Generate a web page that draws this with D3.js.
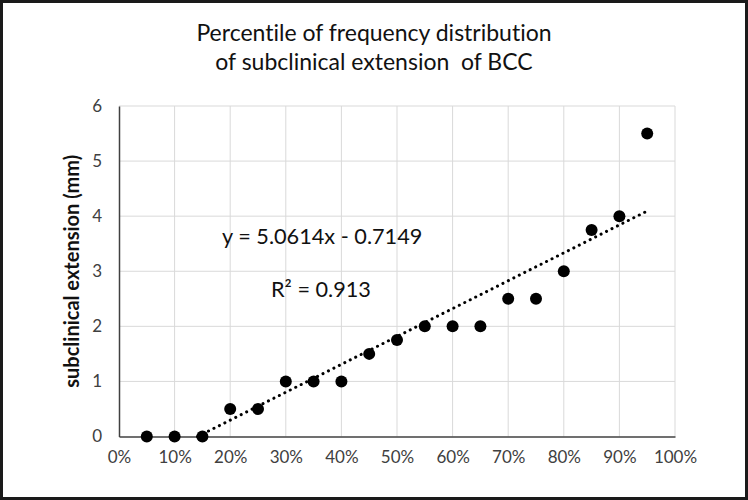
<!DOCTYPE html>
<html>
<head>
<meta charset="utf-8">
<script src="https://cdn.jsdelivr.net/npm/d3@7"></script>
<style>
  html, body { margin: 0; padding: 0; background: #fff; }
  svg { display: block; }
  text { font-variant-ligatures: none; font-feature-settings: "liga" 0, "clig" 0; }
</style>
</head>
<body>
<svg id="chart" width="748" height="500"></svg>
<script>
const titleLines = ["Percentile of frequency distribution", "of subclinical extension  of BCC"];
const yLabel = "subclinical extension (mm)";
const percentiles = [0.05, 0.10, 0.15, 0.20, 0.25, 0.30, 0.35, 0.40, 0.45, 0.50, 0.55, 0.60, 0.65, 0.70, 0.75, 0.80, 0.85, 0.90, 0.95];
const extension = [0, 0, 0, 0.5, 0.5, 1, 1, 1, 1.5, 1.75, 2, 2, 2, 2.5, 2.5, 3, 3.75, 4, 5.5];
const xTicks = [0, 0.1, 0.2, 0.3, 0.4, 0.5, 0.6, 0.7, 0.8, 0.9, 1.0];
const yTicks = [0, 1, 2, 3, 4, 5, 6];
const slope = 5.0614, intercept = -0.7149;
const eqText = "y = 5.0614x - 0.7149";
const r2Text = "R² = 0.913";

const svg = d3.select("#chart");
const W = 748, H = 500;
const font = "Lato, 'Open Sans', sans-serif";

svg.append("rect").attr("x", 1.5).attr("y", 1.5).attr("width", W - 3).attr("height", H - 3)
  .attr("fill", "#fff").attr("stroke", "#1a1a1a").attr("stroke-width", 3);

const x = d3.scaleLinear().domain([0, 1]).range([119, 675]);
const y = d3.scaleLinear().domain([0, 6]).range([436.5, 106]);

// gridlines
const g = svg.append("g");
g.selectAll("line.vx").data(xTicks.slice(1)).join("line")
  .attr("x1", d => x(d)).attr("x2", d => x(d)).attr("y1", y(0)).attr("y2", y(6))
  .attr("stroke", "#d9d9d9").attr("stroke-width", 1);
g.selectAll("line.hy").data(yTicks.slice(1)).join("line")
  .attr("x1", x(0)).attr("x2", x(1)).attr("y1", d => y(d)).attr("y2", d => y(d))
  .attr("stroke", "#d9d9d9").attr("stroke-width", 1);

// axes
const xAxis = d3.axisBottom(x).tickValues(xTicks).tickFormat(d3.format(".0%")).tickSize(0).tickPadding(14);
const yAxis = d3.axisLeft(y).tickValues(yTicks).tickFormat(d3.format("d")).tickSize(0).tickPadding(17);
const gx = svg.append("g").attr("transform", `translate(0,${y(0)})`).call(xAxis);
const gy = svg.append("g").attr("transform", `translate(${x(0)},0)`).call(yAxis);
[gx, gy].forEach(a => {
  a.select(".domain").attr("stroke", "#404040").attr("stroke-width", 1.5);
  a.selectAll("text").attr("font-family", font).attr("font-size", 17).attr("fill", "#404040");
});

// trendline
const x0 = -intercept / slope;
const trend = [x0, d3.max(percentiles)].map(v => [v, slope * v + intercept]);
svg.append("path")
  .attr("d", d3.line().x(d => x(d[0])).y(d => y(d[1]))(trend))
  .attr("fill", "none").attr("stroke", "#000").attr("stroke-width", 3)
  .attr("stroke-linecap", "round").attr("stroke-dasharray", "0.1 6");

// points
svg.selectAll("circle.pt").data(percentiles).join("circle")
  .attr("cx", d => x(d)).attr("cy", (d, i) => y(extension[i])).attr("r", 6).attr("fill", "#000");

// title
svg.append("text").attr("x", 374).attr("y", 41).attr("text-anchor", "middle")
  .attr("font-family", font).attr("font-size", 23).attr("fill", "#111").text(titleLines[0]);
svg.append("text").attr("x", 374).attr("y", 70).attr("text-anchor", "middle")
  .attr("font-family", font).attr("font-size", 23).attr("fill", "#111").attr("xml:space", "preserve").text(titleLines[1]);

// y label
svg.append("text").attr("transform", `translate(79,${(y(0) + y(6)) / 2}) rotate(-90)`)
  .attr("text-anchor", "middle").attr("font-family", font).attr("font-weight", "bold")
  .attr("font-size", 20).attr("fill", "#111").text(yLabel);

// equation
svg.append("text").attr("x", 222).attr("y", 244).attr("font-family", font).attr("font-size", 21.7).attr("fill", "#111").text(eqText);
svg.append("text").attr("x", 271).attr("y", 297).attr("font-family", font).attr("font-size", 21.7).attr("fill", "#111").text(r2Text);
</script>
</body>
</html>
